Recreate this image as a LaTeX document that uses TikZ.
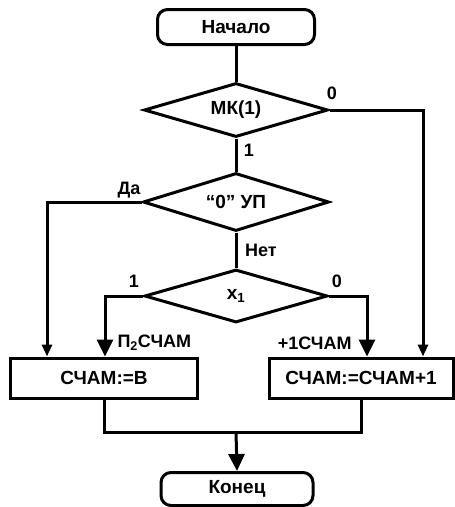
\documentclass[tikz,border=0pt]{standalone}
\usepackage{fontspec}
\setmainfont{Liberation Sans}
\usetikzlibrary{shapes.geometric,arrows.meta}
\begin{document}
\begin{tikzpicture}[x=1pt,y=-1pt,line width=3pt,
  txt/.style={font=\fontsize{19}{21}\bfseries\selectfont},
  lbl/.style={font=\fontsize{18}{20}\bfseries\selectfont,inner sep=0pt},
  term/.style={draw,txt,rounded corners=10pt,inner sep=0pt},
  dec/.style={draw,txt,diamond,shape aspect=3.4,inner sep=0pt},
  box/.style={draw,txt,rectangle,inner sep=0pt,minimum height=40pt},
  arr/.style={-{Triangle[length=17pt,width=16pt]}},
  sarr/.style={-{Triangle[length=12pt,width=10pt]}}]
\useasboundingbox (0,0) rectangle (455,507);
\node[term,minimum width=157pt,minimum height=35pt] (start) at (236,27) {Начало};
\node[dec,minimum width=184pt,minimum height=54pt] (d1) at (236,110) {МК(1)};
\node[dec,minimum width=186pt,minimum height=58pt] (d2) at (236,202) {“0” УП};
\node[dec,minimum width=183pt,minimum height=53pt] (d3) at (236,296) {x\textsubscript{1}};
\node[box,minimum width=187pt] (b1) at (104,378) {СЧАМ:=B};
\node[box,minimum width=184pt] (b2) at (361,378) {СЧАМ:=СЧАМ+1};
\node[term,minimum width=152pt,minimum height=33pt] (end) at (237,489) {Конец};
\coordinate (c1) at (423,110);
\coordinate (c2) at (47,202);
\coordinate (c3) at (105,296);
\coordinate (c4) at (367,296);
\coordinate (c5) at (236,432);
\draw (start) -- (d1);
\draw[sarr] (d1.east) -- (c1) -- (c1 |- b2.north);
\draw (d1) -- (d2);
\draw[sarr] (d2.west) -- (c2) -- (c2 |- b1.north);
\draw (d2) -- (d3);
\draw[arr] (d3.west) -- (c3) -- (c3 |- b1.north);
\draw[arr] (d3.east) -- (c4) -- (c4 |- b2.north);
\draw (b1.south) -- (b1.south |- c5) -- (b2.south |- c5) -- (b2.south);
\draw[arr] (c5) -- (end.north);
\node[lbl] (l0a) at (332,93) {0};
\node[lbl] (l1a) at (249,150) {1};
\node[lbl] (lda) at (129,190) {Да};
\node[lbl] (lnet) at (261,250) {Нет};
\node[lbl] (l1b) at (134,281) {1};
\node[lbl] (l0b) at (337,281) {0};
\node[lbl,anchor=west] (lp2) at (116,343) {П\textsubscript{2}СЧАМ};
\node[lbl,anchor=east] (lp1) at (353,343) {+1СЧАМ};
\end{tikzpicture}
\end{document}
